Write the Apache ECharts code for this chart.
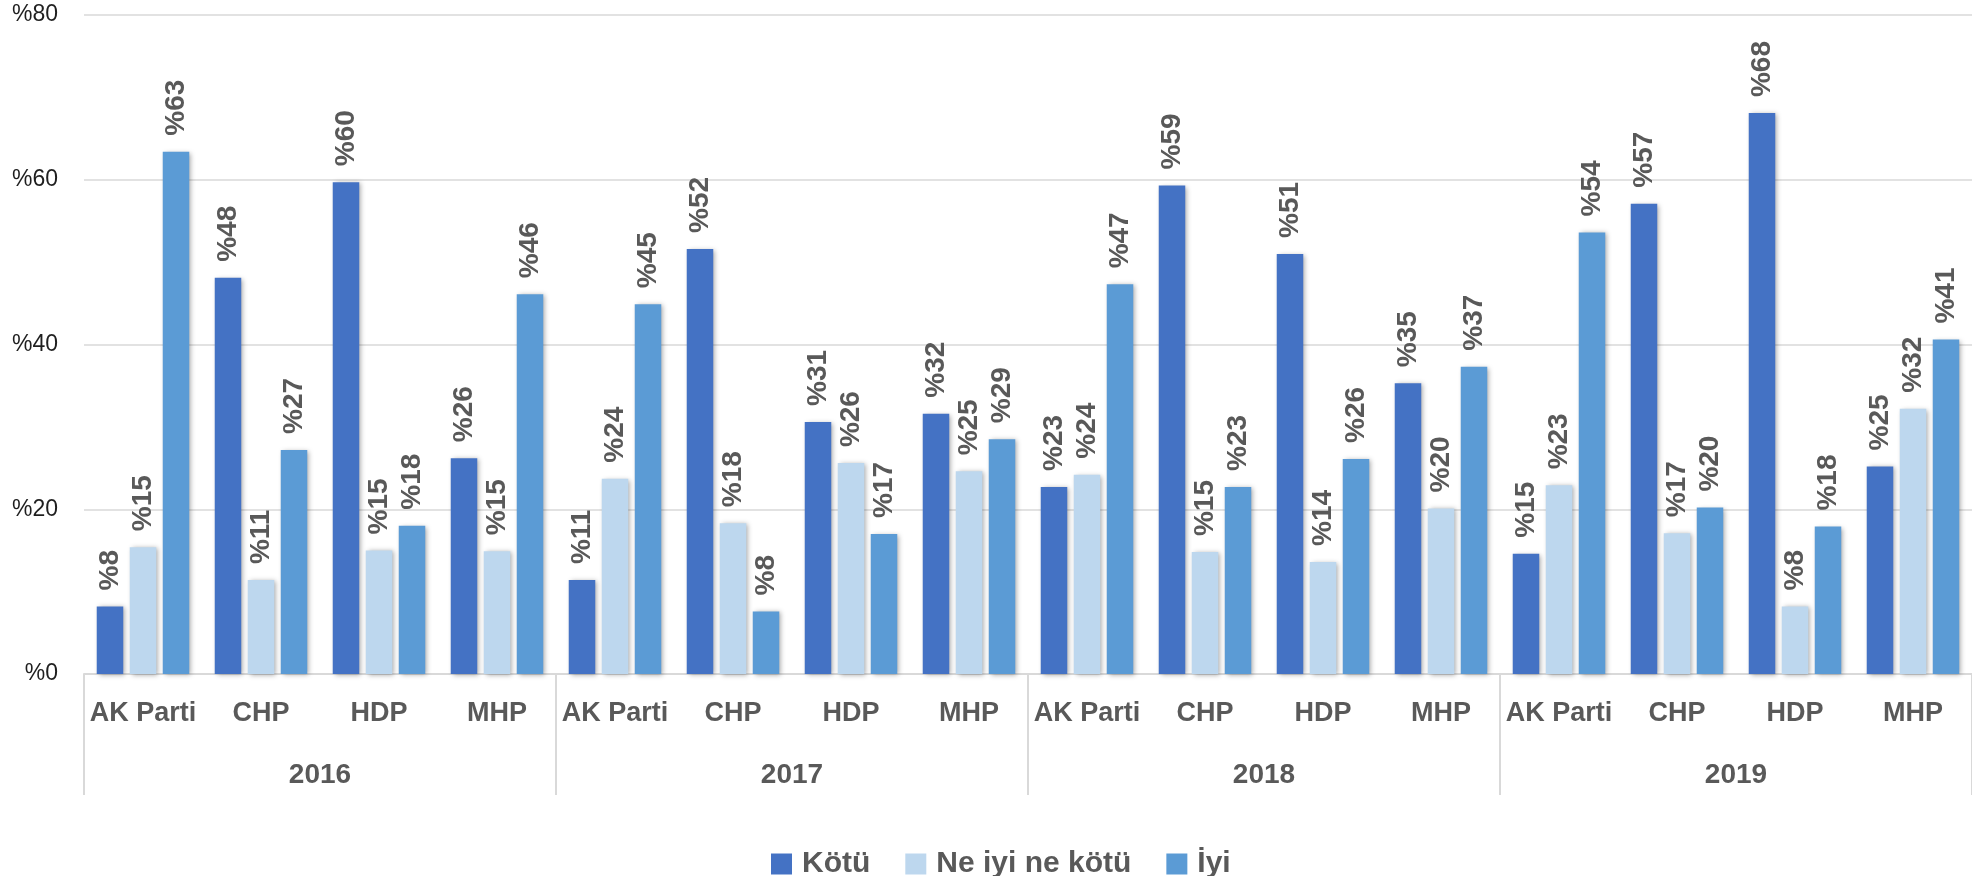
<!DOCTYPE html>
<html><head><meta charset="utf-8">
<script src="https://cdn.jsdelivr.net/npm/echarts@6/dist/echarts.min.js"></script>
<style>html,body{margin:0;padding:0;background:#fff}#c{width:1972px;height:876px}</style>
</head><body><div id="c"></div>
<script>
// ---- data ----
const years = ['2016', '2017', '2018', '2019'];
const parties = ['AK Parti', 'CHP', 'HDP', 'MHP'];
const seriesNames = ['Kötü', 'Ne iyi ne kötü', 'İyi'];
// values in category order: 2016 AK, CHP, HDP, MHP, 2017 AK, ...
const kotu  = [8.2, 48.1, 59.7, 26.2,  11.4, 51.6, 30.6, 31.6,  22.7, 59.3, 51.0, 35.3,  14.6, 57.1, 68.1, 25.2];
const neIyi = [15.4, 11.4, 15.0, 14.9, 23.7, 18.3, 25.6, 24.6,  24.2, 14.8, 13.6, 20.1,  22.9, 17.1, 8.2, 32.2];
const iyi   = [63.4, 27.2, 18.0, 46.1, 44.9, 7.6, 17.0, 28.5,   47.3, 22.7, 26.1, 37.3,  53.6, 20.2, 17.9, 40.6];
const yMin = 0, yMax = 80, yStep = 20;

// ---- build ----
const categories = [];
years.forEach(y => parties.forEach(p => categories.push(y + '|' + p)));
const colors = ['#4472C4', '#BDD7EE', '#5B9BD5'];
const FONT = '"Liberation Sans", Arial, sans-serif';

function mkSeries(name, data, color) {
  return {
    name: name, type: 'bar', data: data, xAxisIndex: 0, yAxisIndex: 0,
    barGap: '24.5%', barCategoryGap: '21.6%',
    itemStyle: { color: color, shadowColor: 'rgba(0,0,0,0.35)', shadowBlur: 5, shadowOffsetX: 2, shadowOffsetY: 1 },
    label: {
      show: true, position: 'top', distance: 16, rotate: 90, align: 'left', verticalAlign: 'middle',
      formatter: p => '%' + Math.round(p.value),
      color: '#595959', fontWeight: 'bold', fontSize: 28, fontFamily: FONT
    },
    emphasis: { disabled: true }
  };
}

const chart = echarts.init(document.getElementById('c'), null, { renderer: 'canvas' });
chart.setOption({
  animation: false,
  backgroundColor: '#fff',
  grid: { left: 84, right: 0, top: 15, bottom: 202, containLabel: false },
  legend: {
    data: seriesNames, left: 766, top: 844, itemWidth: 21, itemHeight: 21, itemGap: 35,
    icon: 'rect',
    textStyle: { color: '#595959', fontWeight: 'bold', fontSize: 30, fontFamily: FONT, padding: [0, 0, 0, 5] }
  },
  xAxis: [
    {
      type: 'category', data: categories, position: 'bottom',
      axisLine: { show: true, lineStyle: { color: '#d9d9d9', width: 2 } },
      axisTick: { show: false },
      axisLabel: { interval: 0, margin: 26, formatter: v => v.split('|')[1], color: '#595959', fontWeight: 'bold', fontSize: 27, fontFamily: FONT },
      splitLine: { show: false }
    },
    {
      type: 'category', data: years, position: 'bottom', gridIndex: 0,
      axisLine: { show: false },
      axisTick: { show: true, interval: 0, length: 121, lineStyle: { color: '#d9d9d9', width: 2 } },
      axisLabel: { interval: 0, margin: 87, color: '#595959', fontWeight: 'bold', fontSize: 28, fontFamily: FONT },
      splitLine: { show: false }
    }
  ],
  yAxis: {
    type: 'value', min: yMin, max: yMax, interval: yStep,
    axisLine: { show: false }, axisTick: { show: false },
    axisLabel: { formatter: v => '%' + v, color: '#1f1f1f', fontSize: 23, margin: 26, fontFamily: FONT },
    splitLine: { lineStyle: { color: '#d9d9d9', width: 1.5 } }
  },
  series: [
    mkSeries(seriesNames[0], kotu, colors[0]),
    mkSeries(seriesNames[1], neIyi, colors[1]),
    mkSeries(seriesNames[2], iyi, colors[2])
  ]
});
</script>
</body></html>
